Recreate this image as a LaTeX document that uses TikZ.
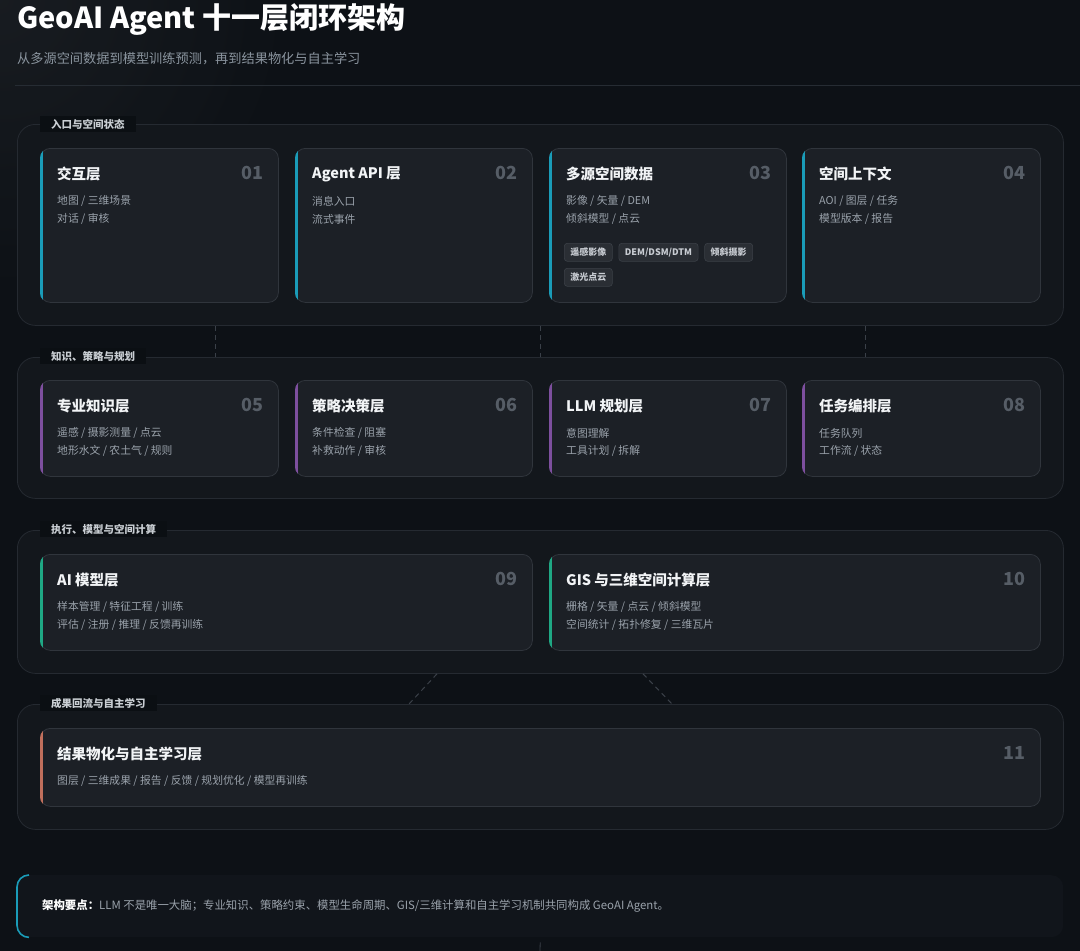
\documentclass[tikz,border=0pt]{standalone}
\usepackage{fontspec}
\setmainfont{Noto Sans CJK SC}
\usetikzlibrary{calc}
\definecolor{bg}{HTML}{0D1116}
\definecolor{grpfill}{HTML}{13171C}
\definecolor{grpline}{HTML}{252A31}
\definecolor{cardfill}{HTML}{1C2026}
\definecolor{cardline}{HTML}{30353C}
\definecolor{titletext}{HTML}{F2F4F6}
\definecolor{bodytext}{HTML}{9AA2AB}
\definecolor{numtext}{HTML}{565D66}
\definecolor{subtext}{HTML}{8A949E}
\definecolor{divline}{HTML}{262C33}
\definecolor{labfill}{HTML}{0B0F13}
\definecolor{labtext}{HTML}{C9CED3}
\definecolor{accC}{HTML}{1A9CB8}
\definecolor{accP}{HTML}{7D4F9E}
\definecolor{accG}{HTML}{1FA884}
\definecolor{accR}{HTML}{C06F5C}
\definecolor{tagfill}{HTML}{2A2E34}
\definecolor{tagline}{HTML}{3B4047}
\definecolor{tagtext}{HTML}{C8CCD2}
\definecolor{connline}{HTML}{3A4048}
\definecolor{notefill}{HTML}{11151B}

\newcommand{\layercard}[9]{%
  \node[cardbox, minimum width=#3bp, minimum height=#4bp] (#1) at #2 {};
  \begin{scope}
    \clip[rounded corners=10bp] (#1.north west) rectangle (#1.south east);
    \fill[#5] (#1.north west) rectangle ([xshift=3bp]#1.south west);
  \end{scope}
  \node[cardtitle] (#1-t) at ([xshift=17bp,yshift=-26bp]#1.north west) {#6};
  \node[cardnum] (#1-n) at ([xshift=-15bp,yshift=-25bp]#1.north east) {#7};
  \node[cardbody] (#1-a) at ([xshift=17bp,yshift=-53bp]#1.north west) {#8};
  \node[cardbody] (#1-b) at ([xshift=17bp,yshift=-71bp]#1.north west) {#9};
}

\begin{document}
\begin{tikzpicture}[x=1bp,y=-1bp,
  grpbox/.style={draw=grpline, fill=grpfill, rounded corners=18bp, line width=0.8bp, inner sep=0pt, anchor=north west},
  grplabel/.style={fill=labfill, text=labtext, font=\fontsize{10.5bp}{12bp}\selectfont\bfseries, inner xsep=11bp, inner ysep=3bp, anchor=west},
  cardbox/.style={draw=cardline, fill=cardfill, rounded corners=10bp, line width=0.8bp, inner sep=0pt, anchor=north west},
  cardtitle/.style={text=titletext, font=\fontsize{14.5bp}{17bp}\selectfont\bfseries, inner sep=0pt, anchor=west},
  cardnum/.style={text=numtext, font=\fontsize{18bp}{20bp}\selectfont\bfseries, inner sep=0pt, anchor=east},
  cardbody/.style={text=bodytext, font=\fontsize{10.8bp}{13bp}\selectfont, inner sep=0pt, anchor=west},
  tagbox/.style={draw=tagline, fill=tagfill, text=tagtext, rounded corners=3bp, line width=0.6bp, font=\fontsize{9bp}{10bp}\selectfont\bfseries, minimum height=18bp, inner xsep=6bp, inner ysep=0pt, anchor=north west},
  conn/.style={draw=connline, dashed, dash pattern=on 5bp off 4bp, line width=1bp}
]
\useasboundingbox (0,0) rectangle (1080,951);
\fill[bg] (0,0) rectangle (1080,951);
\shade[inner color=white!8!bg, outer color=bg, opacity=0.6] (0,0) circle [radius=300bp];

% header
\node[anchor=west, inner sep=0pt, text=white, font=\fontsize{29bp}{33bp}\selectfont\bfseries] (title) at (17,20) {GeoAI Agent 十一层闭环架构};
\node[anchor=west, inner sep=0pt, text=subtext, font=\fontsize{13.2bp}{15bp}\selectfont] (subtitle) at (17,59) {从多源空间数据到模型训练预测，再到结果物化与自主学习};
\draw[divline, line width=0.8bp] (15,85.5) -- (1080,85.5);

% groups
\node[grpbox, minimum width=1046bp, minimum height=201bp] (g1) at (17,124) {};
\node[grpbox, minimum width=1046bp, minimum height=141bp] (g2) at (17,357) {};
\node[grpbox, minimum width=1046bp, minimum height=143bp] (g3) at (17,530) {};
\node[grpbox, minimum width=1046bp, minimum height=125bp] (g4) at (17,704) {};

% connectors
\draw[conn] ([xshift=198bp]g1.south west) -- ([xshift=198bp]g2.north west);
\draw[conn] (g1.south) -- (g2.north);
\draw[conn] ([xshift=-198bp]g1.south east) -- ([xshift=-198bp]g2.north east);
\draw[conn] ([xshift=420bp]g3.south west) -- ([xshift=392bp]g4.north west);
\draw[conn] ([xshift=626bp]g3.south west) -- ([xshift=655bp]g4.north west);

% group labels
\node[grplabel] (l1) at (40,124) {入口与空间状态};
\node[grplabel] (l2) at (40,356) {知识、策略与规划};
\node[grplabel] (l3) at (40,529) {执行、模型与空间计算};
\node[grplabel] (l4) at (40,703) {成果回流与自主学习};

% group 1 cards
\layercard{c1}{(40,148)}{238}{154}{accC}{交互层}{01}{地图 / 三维场景}{对话 / 审核}
\layercard{c2}{(295,148)}{237}{154}{accC}{Agent API 层}{02}{消息入口}{流式事件}
\layercard{c3}{(549,148)}{237}{154}{accC}{多源空间数据}{03}{影像 / 矢量 / DEM}{倾斜模型 / 点云}
\layercard{c4}{(802,148)}{238}{154}{accC}{空间上下文}{04}{AOI / 图层 / 任务}{模型版本 / 报告}

\node[tagbox] (t1) at (564,243) {遥感影像};
\node[tagbox] (t2) at ([xshift=6bp]t1.north east) {DEM/DSM/DTM};
\node[tagbox] (t3) at ([xshift=6bp]t2.north east) {倾斜摄影};
\node[tagbox] (t4) at (564,268) {激光点云};

% group 2 cards
\layercard{c5}{(40,380)}{238}{96}{accP}{专业知识层}{05}{遥感 / 摄影测量 / 点云}{地形水文 / 农土气 / 规则}
\layercard{c6}{(295,380)}{237}{96}{accP}{策略决策层}{06}{条件检查 / 阻塞}{补救动作 / 审核}
\layercard{c7}{(549,380)}{237}{96}{accP}{LLM 规划层}{07}{意图理解}{工具计划 / 拆解}
\layercard{c8}{(802,380)}{238}{96}{accP}{任务编排层}{08}{任务队列}{工作流 / 状态}

% group 3 cards
\layercard{c9}{(40,554)}{492}{96}{accG}{AI 模型层}{09}{样本管理 / 特征工程 / 训练}{评估 / 注册 / 推理 / 反馈再训练}
\layercard{c10}{(549,554)}{491}{96}{accG}{GIS 与三维空间计算层}{10}{栅格 / 矢量 / 点云 / 倾斜模型}{空间统计 / 拓扑修复 / 三维瓦片}

% group 4 card
\layercard{c11}{(40,728)}{1000}{78}{accR}{结果物化与自主学习层}{11}{图层 / 三维成果 / 报告 / 反馈 / 规划优化 / 模型再训练}{}

% note
\node[fill=notefill, rounded corners=12bp, inner sep=0pt, anchor=north west, minimum width=1046bp, minimum height=62bp] (note) at (17,875) {};
\draw[accC, line width=1.6bp, rounded corners=12bp] ([xshift=12bp]note.north west) -- (note.north west) -- (note.south west) -- ([xshift=12bp]note.south west);
\node[anchor=west, inner sep=0pt, text=bodytext, font=\fontsize{11.4bp}{13bp}\selectfont] (notetext) at (42,906) {{\color{white}\bfseries 架构要点：}LLM 不是唯一大脑；专业知识、策略约束、模型生命周期、GIS/三维计算和自主学习机制共同构成 GeoAI Agent。};
\coordinate (stub) at (540,951);
\draw[connline, line width=0.8bp] ([yshift=-5bp]note.south) -- (stub);
\end{tikzpicture}
\end{document}
